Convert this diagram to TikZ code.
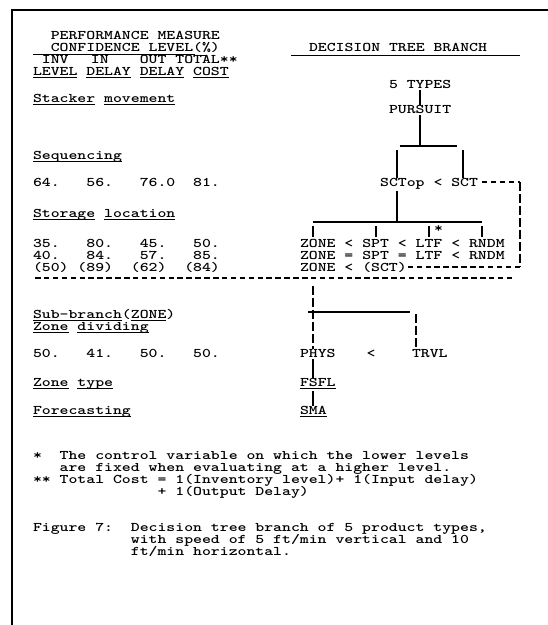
\documentclass[tikz,border=0pt]{standalone}
\usepackage{fontspec}
\usetikzlibrary{calc}
\newfontfamily\tw{lmmonolt10-bold.otf}[FakeStretch=1.284]
\frenchspacing
\newcommand\tul[1]{\setbox0=\hbox{#1}\rlap{\rule[-3pt]{\wd0}{0.9pt}}\box0}
\begin{document}
\begin{tikzpicture}[x=1pt,y=-1pt,
  txt/.style={anchor=base west, inner sep=0pt, outer sep=0pt, font=\tw\fontsize{13.2}{12}\selectfont},
  tree/.style={line width=1.2pt},
  pipes/.style={line width=1.2pt, dash pattern=on 9pt off 3pt},
  hyph/.style={line width=1.1pt, dash pattern=on 5.5pt off 3.4pt},
  frame/.style={line width=1.4pt}]
\useasboundingbox (0,0) rectangle (548,625);
\fill[white] (0,0) rectangle (548,625);
% frame
\draw[frame] (548,10) -- (12,10) -- (12,625);

% ---------- left column ----------
\node[txt] (pm) at (50.8,39) {PERFORMANCE MEASURE};
\node[txt] (cl) at (50.8,51) {CONFIDENCE LEVEL(\%)};
\draw[line width=0.9pt] (33,54.5) -- (195,54.5);
\draw[line width=0.9pt] (200,55.5) -- (207,55.5);
\node[txt] (inv) at (41.9,63) {INV};
\node[txt] (in) at (90.9,63) {IN};
\node[txt] (out) at (139.8,63) {OUT};
\node[txt] (tot) at (175.4,63) {TOTAL**};
\node[txt] (lv) at (33,75) {\tul{LEVEL}~\tul{DELAY}~\tul{DELAY}~\tul{COST}};
\node[txt] (stk) at (33,102) {\tul{Stacker}~\tul{movement}};
\node[txt] (seq) at (33,159) {\tul{Sequencing}};
\node[txt] (r64) at (33,186) {64.~~~56.~~~76.0~~81.};
\node[txt] (sto) at (33,217) {\tul{Storage}~\tul{location}};
\node[txt] (r35) at (33,247) {35.~~~80.~~~45.~~~50.};
\node[txt] (r40) at (33,259) {40.~~~84.~~~57.~~~85.};
\node[txt] (r50) at (33,271) {(50)~(89)~~(62)~~(84)};
\coordinate (dl) at (35,278);
\coordinate (dr) at (512,278);
\draw[hyph] (dl) -- (dr);
\node[txt] (sub) at (33,318) {\tul{Sub-branch}(\tul{ZONE})};
\node[txt] (zdv) at (33,330) {\tul{Zone}~\tul{dividing}};
\node[txt] (r50b) at (33,357) {50.~~~41.~~~50.~~~50.};
\node[txt] (zty) at (33,386) {\tul{Zone}~\tul{type}};
\node[txt] (fct) at (33,414) {\tul{Forecasting}};

% footnotes and caption
\node[txt] (f1) at (33,459) {*~~The control variable on which the lower levels};
\node[txt] (f2) at (33,471) {~~~are fixed when evaluating at a higher level.};
\node[txt] (f3) at (33,483) {**~Total Cost = 1(Inventory level)+ 1(Input delay)};
\node[txt] (f4) at (33,495) {~~~~~~~~~~~~~~+ 1(Output Delay)};
\node[txt] (c1) at (33,531) {Figure 7:~~Decision tree branch of 5 product types,};
\node[txt] (c2) at (33,543) {~~~~~~~~~~~with speed of 5 ft/min vertical and 10};
\node[txt] (c3) at (33,555) {~~~~~~~~~~~ft/min horizontal.};

% ---------- right column: decision tree ----------
\node[txt] (dec) at (309,51) {DECISION TREE BRANCH};
\draw[line width=0.9pt] (291,55) -- (520,55);
\node[txt] (types) at (389,88) {5 TYPES};
\node[txt] (purs) at (389,113) {PURSUIT};
\node[txt] (sctop) at (380.1,186) {SCTop};
\node[txt] (lt1) at (433.5,186) {<};
\node[txt] (sct) at (451.3,186) {SCT};
\node[txt] (z1) at (300,247) {ZONE < SPT < LTF < RNDM};
\node[txt] (z2) at (300,259) {ZONE = SPT = LTF < RNDM};
\node[txt] (z3) at (300,271) {ZONE < (SCT)};
\node[txt] (star) at (434,232) {*};

% tree connectors, upper part
\draw[tree] (types.south -| 420,0) ++(0,2) -- (purs.north -| 420,0);
\coordinate (j1) at (420,146);
\draw[tree] (purs.south -| j1) ++(0,2) -- (j1);
\draw[tree] (400,146) -- (457,146);
\draw[tree] (397,150) -- (sctop.north -| 397,0);
\draw[tree] (463,150) -- (sct.north -| 463,0);
\coordinate (j2) at (397,222);
\draw[tree] (sctop.south -| j2) ++(0,2) -- (j2);
\draw[tree] (313,222) -- (482,222);
\foreach \xx in {313,376,429,482} \draw[tree] (\xx,226) -- (\xx,237);
% dashed feedback connector SCT -> (SCT)
\coordinate (cR1) at (520,182);
\coordinate (cR2) at (520,267);
\draw[hyph] ($(sct.base east)+(4,-4)$) -- (cR1);
\draw[pipes] (cR1) -- (cR2);
\draw[hyph] (cR2) -- ($(z3.base east)+(1,-4)$);

% lower sub-branch
\node[txt] (phys) at (300,357) {PHYS};
\node[txt] (lt2) at (366.7,357) {<};
\node[txt] (trvl) at (412,357) {TRVL};
\node[txt] (fsfl) at (300,386) {\tul{FSFL}};
\node[txt] (sma) at (300,414) {\tul{SMA}};
\coordinate (j3) at (313,312);
\draw[pipes] (313,286) -- (phys.north -| j3);
\draw[tree] (308,312) -- (410,312);
\draw[pipes] (416,314) -- (trvl.north -| 416,0);
\draw[tree] (phys.south -| j3) ++(0,2) -- (fsfl.north -| j3);
\draw[tree] (fsfl.south -| j3) ++(0,2) -- (sma.north -| j3);
\end{tikzpicture}
\end{document}
